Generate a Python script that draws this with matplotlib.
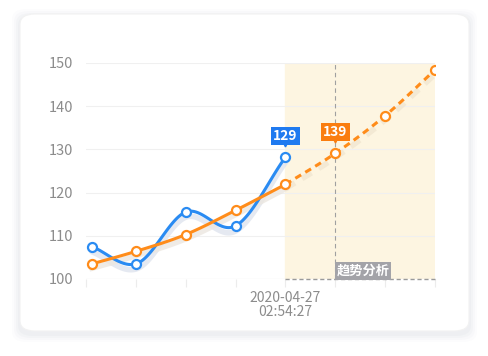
import matplotlib.pyplot as plt
import matplotlib.transforms as mtrans
import numpy as np
from matplotlib.patches import FancyBboxPatch

plt.rcParams['font.family'] = ['Noto Sans CJK SC', 'DejaVu Sans']

# data
x_blue = [0.12, 1, 2, 3, 4]
y_blue = [107.5, 103.5, 115.5, 112.3, 128.2]
x_orange = [0.12, 1, 2, 3, 4, 5, 6, 7]
y_orange = [103.5, 106.4, 110.3, 115.9, 121.9, 129.1, 137.8, 148.4]
split_idx = 4              # orange is a forecast after this point
tick_pos = [0, 1, 2, 3, 4, 5, 6, 7]
tick_labels = ['', '', '', '', '2020-04-27\n02:54:27', '', '', '']
yticks = [100, 110, 120, 130, 140, 150]
tip_blue = '129'
tip_orange = '139'
band_label = '趋势分析'

BLUE = '#2a8bf2'
ORANGE = '#ff8c1a'
GREY = '#8c8c8c'


def smooth(xs, ys, n=30):
    # cubic hermite through the points for the curved look
    xs = np.asarray(xs, float)
    ys = np.asarray(ys, float)
    m = np.gradient(ys, xs)
    ox, oy = [], []
    for i in range(len(xs) - 1):
        h = xs[i + 1] - xs[i]
        t = np.linspace(0, 1, n)
        h00 = 2 * t**3 - 3 * t**2 + 1
        h10 = t**3 - 2 * t**2 + t
        h01 = -2 * t**3 + 3 * t**2
        h11 = t**3 - t**2
        ox.append(xs[i] + t * h)
        oy.append(h00 * ys[i] + h10 * h * m[i] + h01 * ys[i + 1] + h11 * h * m[i + 1])
    return np.concatenate(ox), np.concatenate(oy)


fig = plt.figure(figsize=(4.89, 3.56), dpi=100)
fig.patch.set_facecolor('white')

# card shadow + card
W, H = 489, 356
for k, a in enumerate([0.02, 0.025, 0.03, 0.035]):
    g = 8 - 2 * k
    fig.patches.append(FancyBboxPatch(((20 - g) / W, (356 - 331 - g - 3) / H),
                                      (449 + 2 * g) / W, (317 + 2 * g) / H,
                                      boxstyle='round,pad=0,rounding_size=0.03',
                                      transform=fig.transFigure, fc='#6b7a99', ec='none',
                                      alpha=a, zorder=0))
fig.patches.append(FancyBboxPatch((20 / W, (356 - 331) / H), 449 / W, 317 / H,
                                  boxstyle='round,pad=0,rounding_size=0.03',
                                  transform=fig.transFigure, fc='white', ec='#f2f2f2',
                                  lw=0.8, zorder=1))

ax = fig.add_axes([86 / W, (356 - 279) / H, (435 - 86) / W, (279 - 63) / H])
ax.set_facecolor('none')
ax.set_zorder(2)
ax.set_xlim(0, 7)
ax.set_ylim(100, 150)
for s in ax.spines.values():
    s.set_visible(False)

ax.set_yticks(yticks)
ax.set_yticklabels([str(v) for v in yticks], color=GREY, fontsize=10.5)
ax.tick_params(axis='y', length=0, pad=9)
ax.set_xticks(tick_pos)
ax.set_xticklabels(tick_labels, color=GREY, fontsize=10, linespacing=0.95)
ax.tick_params(axis='x', length=6, color='#ececec', width=0.8, pad=3)
ax.grid(axis='y', color='#f0f0f0', lw=0.8)
ax.axhline(100, color='#ececec', lw=0.8, zorder=1)

# forecast band
x0 = x_orange[split_idx]
ax.axvspan(x0, 7, color='#fdf5e1', zorder=0)
ax.plot([x0, 7], [100, 100], color='#9a9a9a', lw=1.0, ls=(0, (3, 2)), zorder=2, clip_on=False)
ax.axvline(x_orange[split_idx + 1], color='#a0a0a0', lw=0.8, ls=(0, (4, 3)), zorder=2)
ax.text(x_orange[split_idx + 1] + 0.02, 100.25, band_label, color='white', fontsize=9.5,
        fontweight='bold', ha='left', va='bottom',
        bbox=dict(boxstyle='square,pad=0.12', fc='#a3a3a8', ec='none'), zorder=6)

# blue line with soft shadow
bx, by = smooth(x_blue, y_blue)
ax.plot(bx, by - 1.2, color='#dfe4ee', lw=4, alpha=0.8, zorder=3, solid_capstyle='round')
ax.plot(bx, by, color=BLUE, lw=2.2, zorder=4, solid_capstyle='round')
ax.plot(x_blue, y_blue, 'o', ms=6.5, mfc='white', mec=BLUE, mew=1.6, zorder=7)

# orange line: solid history, dashed forecast
ox, oy = smooth(x_orange[:split_idx + 1], y_orange[:split_idx + 1])
ax.plot(ox, oy - 1.0, color='#ece7e0', lw=4, alpha=0.8, zorder=3)
ax.plot(ox, oy, color=ORANGE, lw=2.2, zorder=5, solid_capstyle='round')
fx, fy = smooth(x_orange[split_idx:], y_orange[split_idx:])
ax.plot(fx, fy - 1.0, color='#efe4cf', lw=4, alpha=0.7, zorder=3, ls=(0, (2, 1.5)))
ax.plot(fx, fy, color=ORANGE, lw=2.2, ls=(0, (2.2, 1.6)), zorder=5)
ax.plot(x_orange, y_orange, 'o', ms=6.5, mfc='white', mec=ORANGE, mew=1.6, zorder=7)


def tip(xv, yv, txt, c):
    ax.annotate(txt, (xv, yv), xytext=(0, 10.5), textcoords='offset points',
                ha='center', va='bottom', color='white', fontsize=10, fontweight='bold',
                bbox=dict(boxstyle='square,pad=0.15', fc=c, ec='none'), zorder=8)
    ax.plot([xv], [yv], marker='v', ms=3.5, color=c, zorder=8,
            transform=ax.transData + mtrans.ScaledTranslation(0, 9.5 / 72, fig.dpi_scale_trans))


tip(x_blue[-1], y_blue[-1], tip_blue, '#1f7af0')
tip(x_orange[split_idx + 1], y_orange[split_idx + 1], tip_orange, '#fa7d0f')

fig.savefig('out.png', dpi=100, facecolor='white')
